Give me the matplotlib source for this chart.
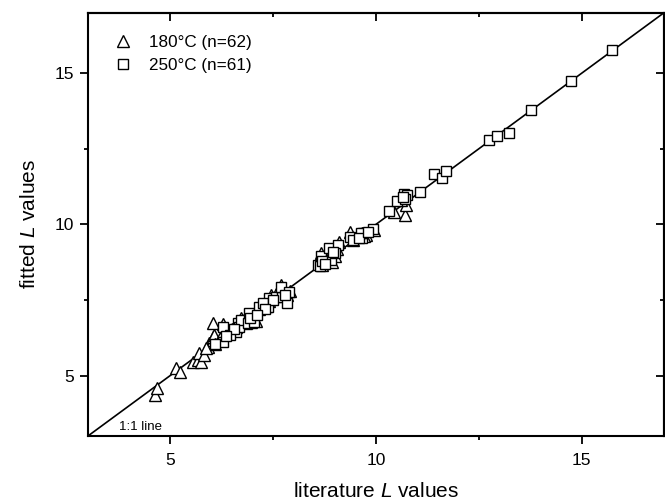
import matplotlib
matplotlib.use("Agg")
import matplotlib.pyplot as plt
from matplotlib.ticker import MultipleLocator

plt.rcParams['font.family'] = ['Liberation Sans', 'DejaVu Sans']
plt.rcParams['mathtext.fontset'] = 'custom'
plt.rcParams['mathtext.rm'] = 'Liberation Sans'
plt.rcParams['mathtext.it'] = 'Liberation Sans:italic'

# 180 °C data (literature L, fitted L)
lit_180 = [4.62, 4.68, 5.15, 5.23, 5.55, 5.67, 5.75, 5.71, 5.83, 5.91, 5.95, 6.03,
           6.03, 6.07, 6.05, 6.29, 6.44, 6.60, 6.64, 6.72, 6.84, 6.92, 6.96, 7.08,
           7.16, 7.20, 7.33, 7.45, 7.61, 7.69, 7.65, 7.85, 7.92, 8.62, 8.66, 8.74,
           8.80, 8.94, 9.06, 9.10, 9.38, 9.55, 9.65, 9.75, 9.95, 10.70, 10.72, 10.60,
           6.20, 6.50, 6.80, 7.40, 7.75, 8.70, 9.00, 9.45, 10.45, 6.10, 5.88, 7.00,
           8.85, 9.70]
fit_180 = [4.36, 4.58, 5.24, 5.13, 5.46, 5.52, 5.46, 5.74, 5.68, 5.96, 6.07, 6.18,
           6.29, 6.34, 6.75, 6.70, 6.40, 6.62, 6.80, 6.90, 6.73, 6.95, 6.78, 6.82,
           7.20, 7.34, 7.30, 7.67, 7.73, 8.00, 7.89, 7.67, 7.80, 8.72, 9.05, 8.88,
           9.10, 8.77, 9.20, 9.43, 9.75, 9.60, 9.70, 9.65, 9.80, 10.32, 10.65, 10.80,
           6.25, 6.55, 6.85, 7.45, 7.85, 8.65, 8.95, 9.50, 10.40, 6.05, 5.90, 7.05,
           9.00, 9.60]

# 250 °C data
lit_250 = [6.28, 6.28, 6.60, 6.64, 6.68, 6.72, 6.88, 6.92, 7.04, 7.16, 7.37, 7.41,
           7.57, 7.71, 7.69, 7.83, 7.89, 8.60, 8.63, 8.66, 8.86, 8.90, 9.07, 9.37,
           9.67, 9.68, 9.63, 9.93, 10.31, 10.51, 10.68, 10.76, 11.08, 11.40, 11.60,
           11.71, 12.75, 12.94, 13.23, 13.76, 14.75, 15.74, 6.45, 6.55, 7.25, 7.50,
           8.70, 9.00, 9.45, 10.70, 6.10, 6.95, 7.30, 7.80, 8.75, 8.95, 9.60, 9.80,
           6.35, 7.10, 10.65]
fit_250 = [6.62, 6.12, 6.45, 6.73, 6.62, 6.84, 6.73, 7.06, 6.78, 7.28, 7.28, 7.56,
           7.61, 7.61, 7.94, 7.41, 7.78, 8.66, 8.61, 8.96, 9.21, 8.83, 9.32, 9.58,
           9.55, 9.71, 9.73, 9.86, 10.45, 10.79, 11.01, 10.96, 11.07, 11.68, 11.52,
           11.77, 12.78, 12.94, 13.01, 13.77, 14.75, 15.76, 6.35, 6.55, 7.40, 7.50,
           8.80, 9.05, 9.50, 10.85, 6.05, 6.90, 7.20, 7.65, 8.70, 9.10, 9.55, 9.75,
           6.30, 7.00, 10.90]

line_lims = [3, 17]

fig = plt.figure(figsize=(6.65, 4.99), dpi=100)
ax = fig.add_axes([0.1323, 0.1263, 0.866, 0.848])

ax.plot(line_lims, line_lims, color='black', lw=1.2, zorder=1)
ax.plot(lit_180, fit_180, linestyle='none', marker='^', ms=9, mfc='white',
        mec='black', mew=1.0, label='180°C (n=62)', zorder=2)
ax.plot(lit_250, fit_250, linestyle='none', marker='s', ms=6.5, mfc='white',
        mec='black', mew=1.0, label='250°C (n=61)', zorder=3)

ax.set_xlim(3, 17)
ax.set_ylim(3, 17)

for a in (ax.xaxis, ax.yaxis):
    a.set_major_locator(MultipleLocator(5))
    a.set_minor_locator(MultipleLocator(2.5))
ax.tick_params(which='major', direction='out', length=6, width=1.3, labelsize=12.5, pad=4)
ax.tick_params(axis='x', which='major', pad=6)
ax.tick_params(which='minor', direction='out', length=3, width=1.3)

# mirrored inward ticks on top and right
top = ax.secondary_xaxis('top')
right = ax.secondary_yaxis('right')
for sec, a in ((top, top.xaxis), (right, right.yaxis)):
    a.set_major_locator(MultipleLocator(5))
    a.set_minor_locator(MultipleLocator(2.5))
    sec.tick_params(which='major', direction='in', length=6, width=1.3,
                    labelleft=False, labelright=False, labeltop=False, labelbottom=False)
    sec.tick_params(which='minor', direction='in', length=3, width=1.3)
    for s in sec.spines.values():
        s.set_linewidth(1.5)

for s in ax.spines.values():
    s.set_linewidth(1.5)

ax.set_xlabel('literature $L$ values', fontsize=15, labelpad=10)
ax.set_ylabel('fitted $L$ values', fontsize=15, labelpad=11)

ax.text(3.75, 3.2, '1:1 line', fontsize=9.5)

ax.legend(loc='upper left', bbox_to_anchor=(0.046, 0.948), frameon=False,
          fontsize=12.3, handletextpad=1.05, labelspacing=0.5, borderaxespad=0,
          borderpad=0, handlelength=1.0)

fig.savefig('out.png', dpi=100)
